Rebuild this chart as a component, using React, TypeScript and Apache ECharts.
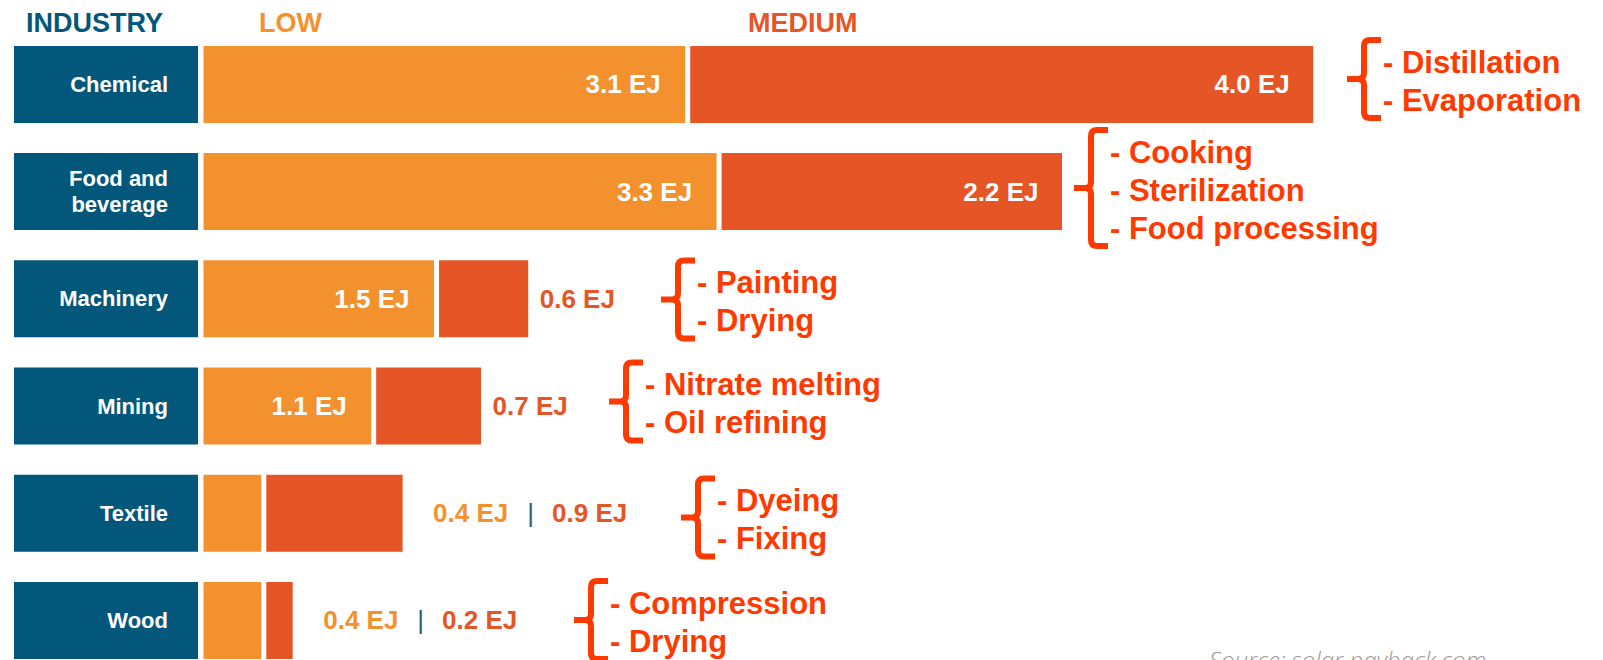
import React, { useEffect, useRef } from 'react';
import * as echarts from 'echarts';

// ---------- data ----------
const categories = ['Chemical', 'Food and\nbeverage', 'Machinery', 'Mining', 'Textile', 'Wood'];
const lowValues = [3.1, 3.3, 1.5, 1.1, 0.4, 0.4];
const mediumValues = [4.0, 2.2, 0.6, 0.7, 0.9, 0.2];
const processes = [
  ['Distillation', 'Evaporation'],
  ['Cooking', 'Sterilization', 'Food processing'],
  ['Painting', 'Drying'],
  ['Nitrate melting', 'Oil refining'],
  ['Dyeing', 'Fixing'],
  ['Compression', 'Drying'],
];
const headers = ['INDUSTRY', 'LOW', 'MEDIUM'];
const sourceText = 'Source: solar payback.com';

// ---------- layout / style constants ----------
const headerX = [26, 259, 748];
const annotationX = [1383, 1110, 697, 645, 717, 610];
const annotationDy = [-3.4, -1.6, 2.7, -2.5, 6.3, 1.6];

const BLUE = '#02577a';
const ORANGE = '#f4912f';
const RED = '#e55526';
const ANNOT = '#ff3a00';
const DIVIDER = '#2c6077';
const FONT = "'Liberation Sans', Arial, Helvetica, sans-serif";
const LINE_H = 38;

const fmt = (v: number) => v.toFixed(1) + ' EJ';

function braceD(h: number) {
  const m = h / 2;
  return `M 34 3 L 23 3 Q 17 3 17 9 L 17 ${m - 6} Q 17 ${m} 11 ${m} L 0 ${m} M 11 ${m} Q 17 ${m} 17 ${m + 6} L 17 ${h - 9} Q 17 ${h - 3} 23 ${h - 3} L 34 ${h - 3}`;
}
const braceH = (n: number) => LINE_H * n + 8;
let registered = false;
function registerBraces() {
  if (registered) return;
  registered = true;
  [2, 3].forEach((n) => {
    echarts.graphic.registerShape('brace' + n, echarts.graphic.extendPath(braceD(braceH(n)), {}));
  });
}

const valueFont = { fontFamily: FONT, fontSize: 26, fontWeight: 'bold' as const, textBorderWidth: 0 };

function lowLabel(i: number) {
  if (lowValues[i] >= 1) {
    return { show: true, position: 'insideRight', distance: 27, color: '#fff', ...valueFont, formatter: fmt(lowValues[i]) };
  }
  return { show: false };
}

function mediumLabel(i: number) {
  if (lowValues[i] < 1) {
    return {
      show: true,
      position: 'right',
      distance: 28,
      formatter: `{o|${fmt(lowValues[i])}}{d||}{r|${fmt(mediumValues[i])}}`,
      rich: {
        o: { color: ORANGE, ...valueFont },
        d: { color: DIVIDER, fontFamily: FONT, fontSize: 26, fontWeight: 'normal', padding: [0, 18, 0, 19] },
        r: { color: RED, ...valueFont },
      },
    };
  }
  if (mediumValues[i] >= 1) {
    return { show: true, position: 'insideRight', distance: 26, color: '#fff', ...valueFont, formatter: fmt(mediumValues[i]) };
  }
  return { show: true, position: 'right', distance: 9, color: RED, ...valueFont, formatter: fmt(mediumValues[i]) };
}

export default function App() {
  const ref = useRef<HTMLDivElement>(null);

  useEffect(() => {
    if (!ref.current) return;
    registerBraces();
    const chart = echarts.init(ref.current, undefined, { renderer: 'svg' });
    const gridTop = 30.8;
    const gridHeight = 643.2;

    chart.setOption({
      animation: false,
      backgroundColor: '#ffffff',
      textStyle: { fontFamily: FONT },
      grid: [
        { left: 201, right: 146, top: gridTop, height: gridHeight, containLabel: false },
        { left: 14, width: 184, top: gridTop, height: gridHeight, containLabel: false },
      ],
      xAxis: [
        { type: 'value', gridIndex: 0, min: 0, max: 8, show: false },
        { type: 'value', gridIndex: 1, min: 0, max: 1, show: false },
      ],
      yAxis: [
        { type: 'category', gridIndex: 0, data: categories, inverse: true, show: false },
        { type: 'category', gridIndex: 1, data: categories, inverse: true, show: false },
      ],
      series: [
        {
          type: 'bar',
          name: 'Industry',
          xAxisIndex: 1,
          yAxisIndex: 1,
          barWidth: 77,
          silent: true,
          data: categories.map(() => 1),
          itemStyle: { color: BLUE },
          label: {
            show: true,
            position: 'insideRight',
            distance: 30,
            formatter: '{b}',
            color: '#fff',
            fontFamily: FONT,
            fontSize: 22,
            fontWeight: 'bold',
            lineHeight: 26,
            textBorderWidth: 0,
          },
        },
        {
          type: 'bar',
          name: 'Low',
          stack: 'total',
          barWidth: 82,
          silent: true,
          itemStyle: { color: ORANGE, borderColor: '#ffffff', borderWidth: 2.5 },
          data: lowValues.map((v, i) => ({ value: v, label: lowLabel(i) })),
        },
        {
          type: 'bar',
          name: 'Medium',
          stack: 'total',
          barWidth: 82,
          silent: true,
          itemStyle: { color: RED, borderColor: '#ffffff', borderWidth: 2.5 },
          data: mediumValues.map((v, i) => ({ value: v, label: mediumLabel(i) })),
        },
      ],
    });

    const rowY = categories.map((_, i) => {
      const p = chart.convertToPixel({ gridIndex: 0 }, [0, i]) as number[];
      return p[1];
    });

    const graphics: any[] = [];
    const headerColors = [BLUE, ORANGE, RED];
    headers.forEach((h, i) => {
      graphics.push({
        type: 'text',
        x: headerX[i],
        y: 22.5,
        style: {
          text: h,
          fill: headerColors[i],
          fontFamily: FONT,
          fontSize: 27,
          fontWeight: 'bold',
          align: 'left',
          verticalAlign: 'middle',
        },
      });
    });

    processes.forEach((lines, i) => {
      const n = lines.length;
      const cy = rowY[i] + annotationDy[i];
      const H = braceH(n);
      graphics.push({
        type: 'brace' + n,
        x: annotationX[i] - 36,
        y: cy - 2 - H / 2,
        style: { stroke: ANNOT, lineWidth: 6, fill: 'none', lineCap: 'butt', lineJoin: 'miter' },
      });
      graphics.push({
        type: 'text',
        x: annotationX[i],
        y: cy,
        style: {
          text: lines.map((l) => '- ' + l).join('\n'),
          fill: ANNOT,
          fontFamily: FONT,
          fontSize: 31,
          fontWeight: 'bold',
          lineHeight: LINE_H,
          align: 'left',
          verticalAlign: 'middle',
        },
      });
    });

    graphics.push({
      type: 'text',
      x: 1209,
      y: 659,
      style: {
        text: sourceText,
        fill: '#9a9a9a',
        fontFamily: "'Open Sans', 'DejaVu Sans', sans-serif",
        fontSize: 24,
        fontStyle: 'italic',
        fontWeight: 300,
        align: 'left',
        verticalAlign: 'middle',
      },
    });

    chart.setOption({ graphic: { elements: graphics } });

    return () => chart.dispose();
  }, []);

  return (
    <div style={{ position: 'absolute', left: 0, top: 0, width: 1603, height: 660, overflow: 'hidden', background: '#fff' }}>
      <div ref={ref} style={{ width: 1603, height: 700 }} />
    </div>
  );
}
